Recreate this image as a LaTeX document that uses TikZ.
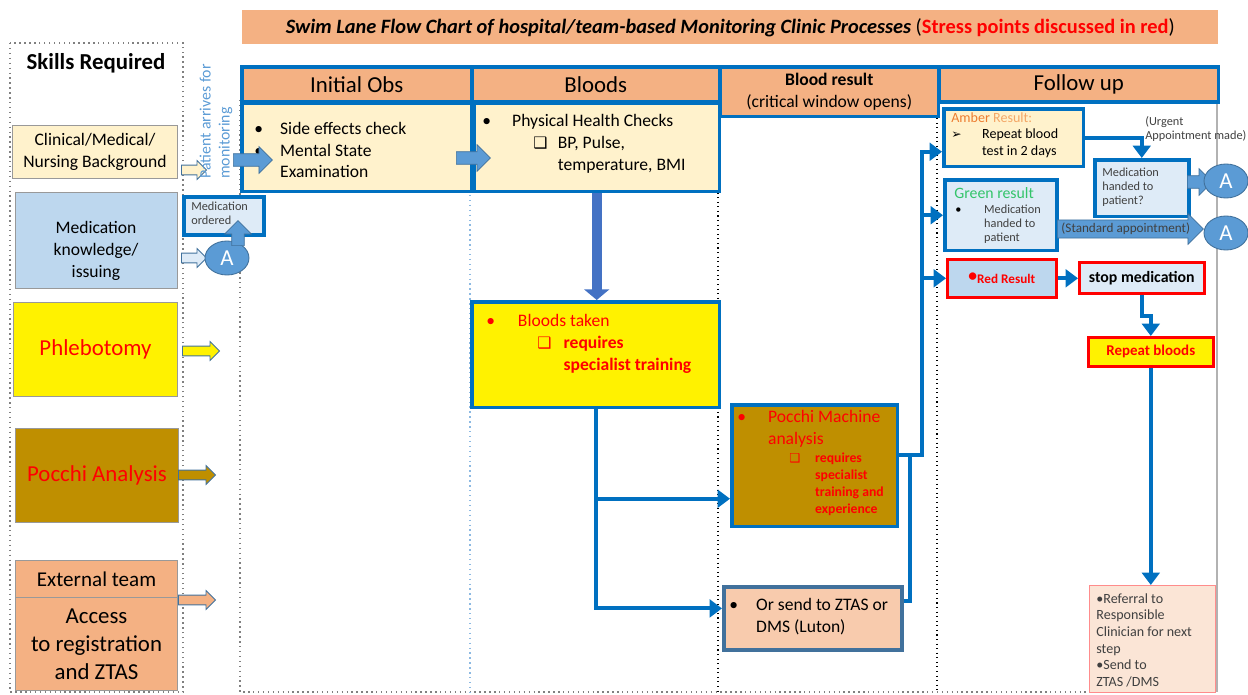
\documentclass[tikz,border=0pt]{standalone}
\usepackage{fontspec}
\setmainfont{Carlito}
\newfontfamily\symfont{DejaVu Sans}
\usetikzlibrary{arrows.meta}
\usetikzlibrary{shapes.geometric}
\usetikzlibrary{shapes.arrows}
\usetikzlibrary{positioning}

\definecolor{hdrorange}{HTML}{F4B183}
\definecolor{cream}{HTML}{FFF2CC}
\definecolor{skyblue}{HTML}{BDD7EE}
\definecolor{paleblue}{HTML}{DEEBF7}
\definecolor{gold}{HTML}{BF8F00}
\definecolor{peach}{HTML}{F8CBAD}
\definecolor{blush}{HTML}{FBE5D6}
\definecolor{flowblue}{HTML}{0070C0}
\definecolor{midblue}{HTML}{5B9BD5}
\definecolor{royal}{HTML}{4472C4}
\definecolor{steel}{HTML}{41719C}
\definecolor{ambercol}{HTML}{ED7D31}
\definecolor{amberlt}{HTML}{F4A767}
\definecolor{greencol}{HTML}{33C46A}
\definecolor{stressred}{HTML}{FF0000}
\definecolor{textgray}{HTML}{404040}

\newcommand{\titlef}{\fontsize{11.6}{13.5}\selectfont}
\newcommand{\hdrf}{\fontsize{13}{15.6}\selectfont}
\newcommand{\bodyf}{\fontsize{10}{12.5}\selectfont}
\newcommand{\notef}{\fontsize{8}{9.6}\selectfont}
\newcommand{\tinyf}{\fontsize{7}{8}\selectfont}
\newcommand{\refsf}{\fontsize{8}{9.5}\selectfont}
\newcommand{\chk}{{\symfont\fontsize{9}{9}\selectfont ❑}}

\begin{document}
\begin{tikzpicture}[x=0.02cm, y=-0.02cm,
    box/.style={anchor=north west, inner sep=0pt},
    skill/.style={box, draw=gray!80, line width=0.6pt},
    lanebox/.style={box, draw=flowblue, line width=2pt},
    redbox/.style={box, draw=stressred, line width=1.5pt},
    txt/.style={inner sep=0pt, align=left},
    flow/.style={draw=flowblue, line width=2.2pt, -{Triangle[length=7pt,width=10pt]}},
    flowline/.style={draw=flowblue, line width=2.2pt},
    feed/.style={single arrow, draw=steel, line width=0.5pt, inner xsep=0pt, inner ysep=2.5pt,
        single arrow head extend=2.6pt, minimum height=0.5cm, anchor=tail},
    block/.style={single arrow, fill=midblue, draw=steel, line width=0.4pt, inner xsep=0pt,
        inner ysep=3.4pt, single arrow head extend=4pt, anchor=tail},
    bubble/.style={ellipse, fill=midblue, draw=steel, line width=0.5pt, text=white,
        minimum width=0.88cm, minimum height=0.68cm, inner sep=0pt, font=\hdrf}]
  \useasboundingbox (0,0) rectangle (1248,695);

  \node[box, fill=hdrorange, minimum width=19.52cm, minimum height=0.68cm, font=\titlef] (title) at (242,10)
    {{\bfseries\itshape Swim Lane Flow Chart of hospital/team-based Monitoring Clinic Processes} (\textcolor{stressred}{\bfseries Stress points discussed in red})};

  % skills column
  \draw[dotted, gray, line width=0.8pt] (10,43) rectangle (183,692);
  \node[font=\hdrf\bfseries, inner sep=0pt] (skillsTitle) at (96,63) {Skills Required};
  \node[skill, fill=cream, minimum width=3.3cm, minimum height=1.06cm, align=center, font=\bodyf] (clinBox) at (12,125) {Clinical/Medical/\\Nursing Background};
  \node[skill, fill=skyblue, minimum width=3.24cm, minimum height=1.92cm] (medKnowBox) at (15,192) {};
  \node[txt, align=center, font=\bodyf] (medKnowTxt) at (96,251) {Medication\\knowledge/\\issuing};
  \node[skill, fill=yellow, minimum width=3.28cm, minimum height=1.88cm, text=stressred, font=\hdrf] (phlebBox) at (13,302) {Phlebotomy};
  \node[skill, fill=gold, minimum width=3.26cm, minimum height=1.88cm, text=stressred, font=\hdrf] (pocSkBox) at (15,428) {Pocchi Analysis};
  \node[skill, fill=hdrorange, minimum width=3.24cm, minimum height=0.74cm, font=\fontsize{12}{14}\selectfont] (extBox) at (15,560) {External team};
  \node[skill, fill=hdrorange, minimum width=3.24cm, minimum height=1.86cm, align=center, font=\fontsize{13}{15.9}\selectfont] (accessBox) at (15,597) {Access\\to registration\\and ZTAS};

  \node[feed, fill=cream] (clinArr) at (181,170) {};
  \node[feed, fill=paleblue] (medKnowArr) at (181,258) {};
  \node[feed, fill=yellow, minimum height=0.74cm] (phlebArr) at (182,351) {};
  \node[feed, fill=gold, minimum height=0.74cm] (pocSkArr) at (178,475) {};
  \node[feed, fill=hdrorange, minimum height=0.74cm] (extArr) at (178,600) {};

  \node[txt, rotate=90, anchor=west, text=midblue, font=\fontsize{9}{10.8}\selectfont] (arrivesTxt) at (216,179) {Patient arrives for\\monitoring};

  % lanes
  \draw[dotted, gray, line width=0.8pt] (240,100) -- (240,692) -- (1217,692);
  \draw[dotted, midblue!70, line width=0.8pt] (470,190) -- (470,692);
  \draw[dotted, black, line width=0.6pt] (718,115) -- (718,692);
  \draw[dotted, black, line width=0.6pt] (937,100) -- (937,692);
  \draw[gray!60, line width=0.8pt] (1217,100) -- (1217,692);

  \node[lanebox, fill=hdrorange, minimum width=4.6cm, minimum height=0.7cm, font=\hdrf] (initHdr) at (240,65) {Initial Obs};
  \node[lanebox, fill=hdrorange, minimum width=4.96cm, minimum height=0.7cm, font=\hdrf] (bloodsHdr) at (470,65) {Bloods};
  \node[lanebox, fill=hdrorange, minimum width=4.38cm, minimum height=1.0cm, align=center, font=\bodyf] (resultHdr) at (718,65) {\textbf{Blood result}\\(critical window opens)};
  \node[lanebox, fill=hdrorange, minimum width=5.6cm, minimum height=0.7cm, font=\hdrf] (followHdr) at (937,65) {Follow up};

  % initial obs and bloods
  \node[lanebox, fill=cream, minimum width=4.6cm, minimum height=1.78cm] (initBox) at (240,101) {};
  \node[txt, anchor=west, font=\bodyf] (initTxt) at (254,150) {\makebox[14.7pt][l]{•}Side effects check\\\makebox[14.7pt][l]{•}Mental State\\\hspace*{14.7pt}Examination};
  \node[lanebox, fill=cream, minimum width=4.92cm, minimum height=1.78cm] (bloodsBox) at (472,101) {};
  \node[txt, anchor=west, font=\bodyf] (bloodsTxt) at (482,144) {\makebox[17pt][l]{•}Physical Health Checks\\\hspace*{29pt}\makebox[14pt][l]{\chk}BP, Pulse,\\\hspace*{43pt}temperature, BMI};
  \node[block, minimum height=0.78cm] (entryArr) at (233,160) {};
  \node[block, minimum height=0.68cm] (stepArr) at (456,158) {};

  \node[lanebox, fill=paleblue, minimum width=1.6cm, minimum height=0.76cm] (medOrdBox) at (182,195) {};
  \node[txt, anchor=west, text=textgray, font=\tinyf] (medOrdTxt) at (191,213) {Medication\\ordered};
  \node[bubble] (circA1) at (227,258) {A};
  \node[block, rotate=90, minimum height=0.5cm] (upArr) at (238,246) {};

  \node[lanebox, fill=yellow, minimum width=4.96cm, minimum height=2.12cm] (takenBox) at (470,300) {};
  \node[txt, anchor=west, text=stressred, font=\bodyf] (takenTxt) at (486,344) {\makebox[18pt][l]{•}Bloods taken\\\hspace*{29pt}\makebox[15pt][l]{\chk}\textbf{requires}\\\hspace*{44pt}\textbf{specialist training}};
  \draw[line width=5.5pt, draw=royal, -{Triangle[length=6pt,width=14pt]}] (bloodsBox.south) -- (bloodsBox.south |- takenBox.north);

  % blood result
  \node[lanebox, fill=gold, minimum width=3.32cm, minimum height=2.44cm] (pocBox) at (730,403) {};
  \node[txt, anchor=north west, text=stressred, font=\bodyf] (pocTxtA) at (737,410) {\makebox[17.5pt][l]{•}Pocchi Machine\\\hspace*{17.5pt}analysis};
  \node[txt, anchor=north west, text=stressred, font=\fontsize{7.8}{9.6}\selectfont\bfseries] (pocTxtB) at (789,453) {\makebox[14.7pt][l]{\symfont\mdseries\fontsize{7}{7}\selectfont ❑}requires\\\hspace*{14.7pt}specialist\\\hspace*{14.7pt}training and\\\hspace*{14.7pt}experience};
  \node[box, draw=steel, line width=2.2pt, fill=peach, minimum width=3.56cm, minimum height=1.26cm] (ztasBox) at (722,585) {};
  \node[txt, anchor=west, font=\bodyf] (ztasTxt) at (729,617) {\makebox[15.3pt][l]{•}Or send to ZTAS or\\\hspace*{15.3pt}DMS (Luton)};

  \draw[flow] (takenBox.south) |- ([shift={(0,33)}]pocBox.west);
  \draw[flow] (takenBox.south) |- ([shift={(0,-10)}]ztasBox.west);

  % follow up
  \node[lanebox, fill=cream, minimum width=2.8cm, minimum height=1.16cm] (amberBox) at (942,107) {};
  \node[txt, anchor=north west, font=\notef] (amberTxt) at (951,112) {\textcolor{ambercol}{Amber} \textcolor{amberlt}{Result:}\\\makebox[17.5pt][l]{\symfont\fontsize{7}{7}\selectfont ➢}Repeat blood\\\hspace*{17.5pt}test in 2 days};
  \node[lanebox, fill=paleblue, minimum width=1.88cm, minimum height=1.14cm] (medBox) at (1093,158) {};
  \node[txt, anchor=west, text=textgray, font=\tinyf] (medTxt) at (1102,187) {Medication\\handed to\\patient?};
  \node[txt, anchor=north west, text=textgray, font=\tinyf] (urgentTxt) at (1145,116) {(Urgent\\Appointment made)};

  \node[lanebox, fill=paleblue, minimum width=2.24cm, minimum height=1.42cm] (greenBox) at (943,178) {};
  \node[txt, anchor=west, text=greencol, font=\fontsize{9}{10}\selectfont] (greenHead) at (954,193) {Green result};
  \node[txt, anchor=north west, text=textgray, font=\tinyf] (greenTxt) at (955,205) {\makebox[16.4pt][l]{\textcolor{black}{•}}Medication\\\hspace*{16.4pt}handed to\\\hspace*{16.4pt}patient};

  \node[redbox, fill=skyblue, minimum width=2.18cm, minimum height=0.76cm, text=stressred, font=\fontsize{7.5}{9}\selectfont\bfseries] (redBox) at (946,258) {\raisebox{1pt}{\fontsize{10}{10}\selectfont •}Red Result};
  \node[redbox, fill=paleblue, minimum width=2.5cm, minimum height=0.62cm, font=\fontsize{9}{10}\selectfont\bfseries] (stopBox) at (1078,261) {stop medication};
  \node[redbox, fill=yellow, minimum width=2.5cm, minimum height=0.58cm, text=stressred, font=\fontsize{8.5}{10}\selectfont\bfseries] (repBox) at (1087,336) {Repeat bloods};
  \node[box, draw=stressred!45, line width=0.8pt, fill=blush, minimum width=2.52cm, minimum height=2.14cm] (refBox) at (1089,585) {};
  \node[txt, anchor=north west, text=textgray, font=\refsf] (refTxt) at (1096,593) {•Referral to\\Responsible\\Clinician for next\\step\\•Send to\\ZTAS /DMS};

  \coordinate (trunk) at (922,300);
  \coordinate (join) at (910,453);
  \draw[flow] ([shift={(0,-11)}]pocBox.east) -| (trunk) |- ([shift={(0,14)}]amberBox.west);
  \draw[flowline] ([shift={(0,-17)}]ztasBox.east) -| (join);
  \draw[flow] (trunk |- greenBox.west) -- (greenBox.west);
  \draw[flow] (trunk |- redBox.west) -- (redBox.west);
  \draw[flow] (amberBox.east) -| (medBox.north);
  \draw[flow] (redBox.east) -- (redBox.east -| stopBox.west);
  \draw[flow] (stopBox.south) -- ++(0,21) -| (repBox.north);
  \draw[flow] (repBox.south) -- (repBox.south |- refBox.north);

  \node[block, minimum height=2.92cm, font=\fontsize{7.5}{8}\selectfont, text=textgray, inner ysep=1.6pt, single arrow head extend=3.6pt] (stdArr) at (1057,229) {(Standard appointment)};
  \node[block, minimum height=0.5cm] (medArr) at (1187,182) {};
  \node[bubble] (circA2) at (1226,181) {A};
  \node[bubble] (circA3) at (1226,233) {A};
\end{tikzpicture}
\end{document}
